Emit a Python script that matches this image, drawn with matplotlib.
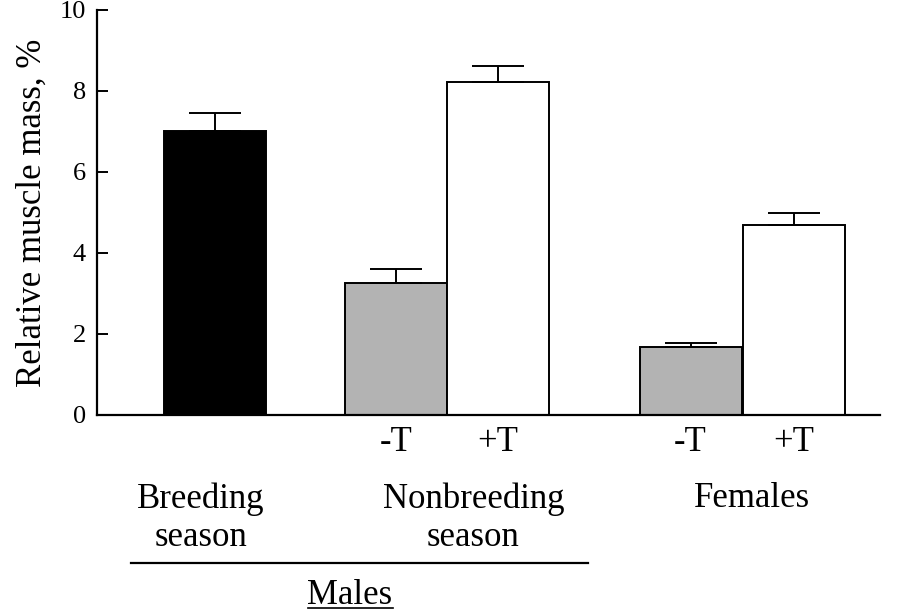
import numpy as np
import matplotlib
matplotlib.use("Agg")
import matplotlib.pyplot as plt
from matplotlib.lines import Line2D

# данные
positions = [1.16, 2.93, 3.93, 5.82, 6.83]
values = [7.0, 3.26, 8.22, 1.68, 4.69]
errors = [0.45, 0.35, 0.4, 0.1, 0.3]
colors = ['black', '#b3b3b3', 'white', '#b3b3b3', 'white']
tick_vals = [0, 2, 4, 6, 8, 10]
sub_labels = ['', '-T', '+T', '-T', '+T']

plt.rcParams['font.family'] = ['Liberation Serif', 'DejaVu Serif']

fig = plt.figure(figsize=(9, 6.12), dpi=100)
ax = fig.add_axes([0.1078, 0.3219, 0.8702, 0.6618])

ax.bar(positions, values, width=1.0, color=colors, edgecolor='black', linewidth=1.4, zorder=2)
ax.errorbar(positions, values, yerr=[np.zeros(len(errors)), errors], fmt='none',
            ecolor='black', elinewidth=1.4, capsize=19, capthick=1.4, zorder=3)

ax.set_xlim(0, 7.68)
ax.set_ylim(0, 10)
ax.set_yticks(tick_vals)
ax.set_xticks([])
ax.tick_params(axis='y', direction='in', length=8, width=1.4, labelsize=19, pad=8)
for s in ['top', 'right']:
    ax.spines[s].set_visible(False)
ax.spines['left'].set_linewidth(1.6)
ax.spines['bottom'].set_linewidth(1.6)
ax.set_ylabel('Relative muscle mass, %', fontsize=25, labelpad=8)

tr = ax.get_xaxis_transform()
for x, lab in zip(positions, sub_labels):
    if lab:
        ax.text(x, -0.068, lab, transform=tr, ha='center', va='center', fontsize=25)

ax.text(1.02, -0.255, 'Breeding\nseason', transform=tr, ha='center', va='center',
        fontsize=25, linespacing=1.2)
ax.text(3.69, -0.255, 'Nonbreeding\nseason', transform=tr, ha='center', va='center',
        fontsize=25, linespacing=1.2)
ax.text(6.42, -0.207, 'Females', transform=tr, ha='center', va='center', fontsize=25)

ax.add_line(Line2D([0.33, 4.81], [-0.365, -0.365], transform=tr, color='black',
                   linewidth=1.6, clip_on=False))
ax.text(2.48, -0.446, 'Males', transform=tr, ha='center', va='center', fontsize=25)
ax.add_line(Line2D([2.07, 2.90], [-0.476, -0.476], transform=tr, color='black',
                   linewidth=1.2, clip_on=False))

fig.savefig('out.png', dpi=100)
